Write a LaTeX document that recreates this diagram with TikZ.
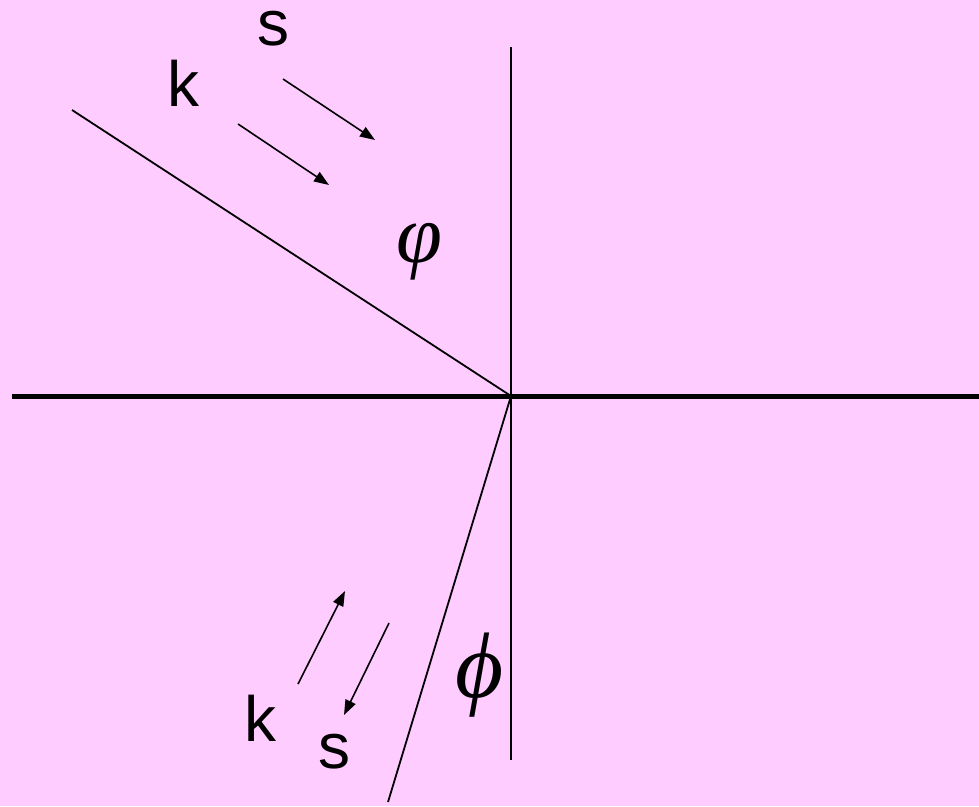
\documentclass[tikz,border=0pt]{standalone}
\usepackage{fontspec}
\setmainfont{Liberation Sans}
\newfontfamily\grserif{Liberation Serif}
\usetikzlibrary{arrows.meta}
\definecolor{bg}{HTML}{FFCCFF}
\tikzset{
  thin line/.style={line width=1.8pt, black},
  vec/.style={line width=1.6pt, -{Triangle[length=15pt,width=11pt]}},
  lbl/.style={inner sep=0pt, font=\fontsize{64}{64}\selectfont},
  greek/.style={inner sep=0pt},
}
\begin{document}
\begin{tikzpicture}[x=1pt,y=-1pt]
\fill[bg] (0,0) rectangle (979,806);
\useasboundingbox (0,0) rectangle (979,806);
\coordinate (O) at (511,396);
\coordinate (L) at (12,396);
\coordinate (R) at (979,396);
\coordinate (T) at (511,47);
\coordinate (B) at (511,760);
\coordinate (I) at (72,110);
\coordinate (F) at (388,802);
\draw[line width=5pt] (L) -- (R);
\draw[thin line] (T) -- (B);
\draw[thin line] (I) -- (O);
\draw[thin line] (O) -- (F);
% top arrows
\coordinate (s1a) at (283,79);
\coordinate (s1b) at (375,140);
\coordinate (k1a) at (238,124);
\coordinate (k1b) at (329,185);
\draw[vec] (s1a) -- (s1b);
\draw[vec] (k1a) -- (k1b);
% bottom arrows
\coordinate (k2a) at (298,684);
\coordinate (k2b) at (345,591);
\coordinate (s2a) at (389,623);
\coordinate (s2b) at (344,715);
\draw[vec] (k2a) -- (k2b);
\draw[vec] (s2a) -- (s2b);
% labels
\node[lbl] (sTop) at (273,29) {s};
\node[lbl] (kTop) at (183,83) {k};
\node[lbl] (kBot) at (260,718) {k};
\node[lbl] (sBot) at (334,752) {s};
\node[greek] (vphi) at (419,252) {\grserif\itshape\fontsize{83}{83}\selectfont φ};
\node[greek] (phi) at (480,675) {\grserif\itshape\fontsize{93}{93}\selectfont ϕ};
\end{tikzpicture}
\end{document}
